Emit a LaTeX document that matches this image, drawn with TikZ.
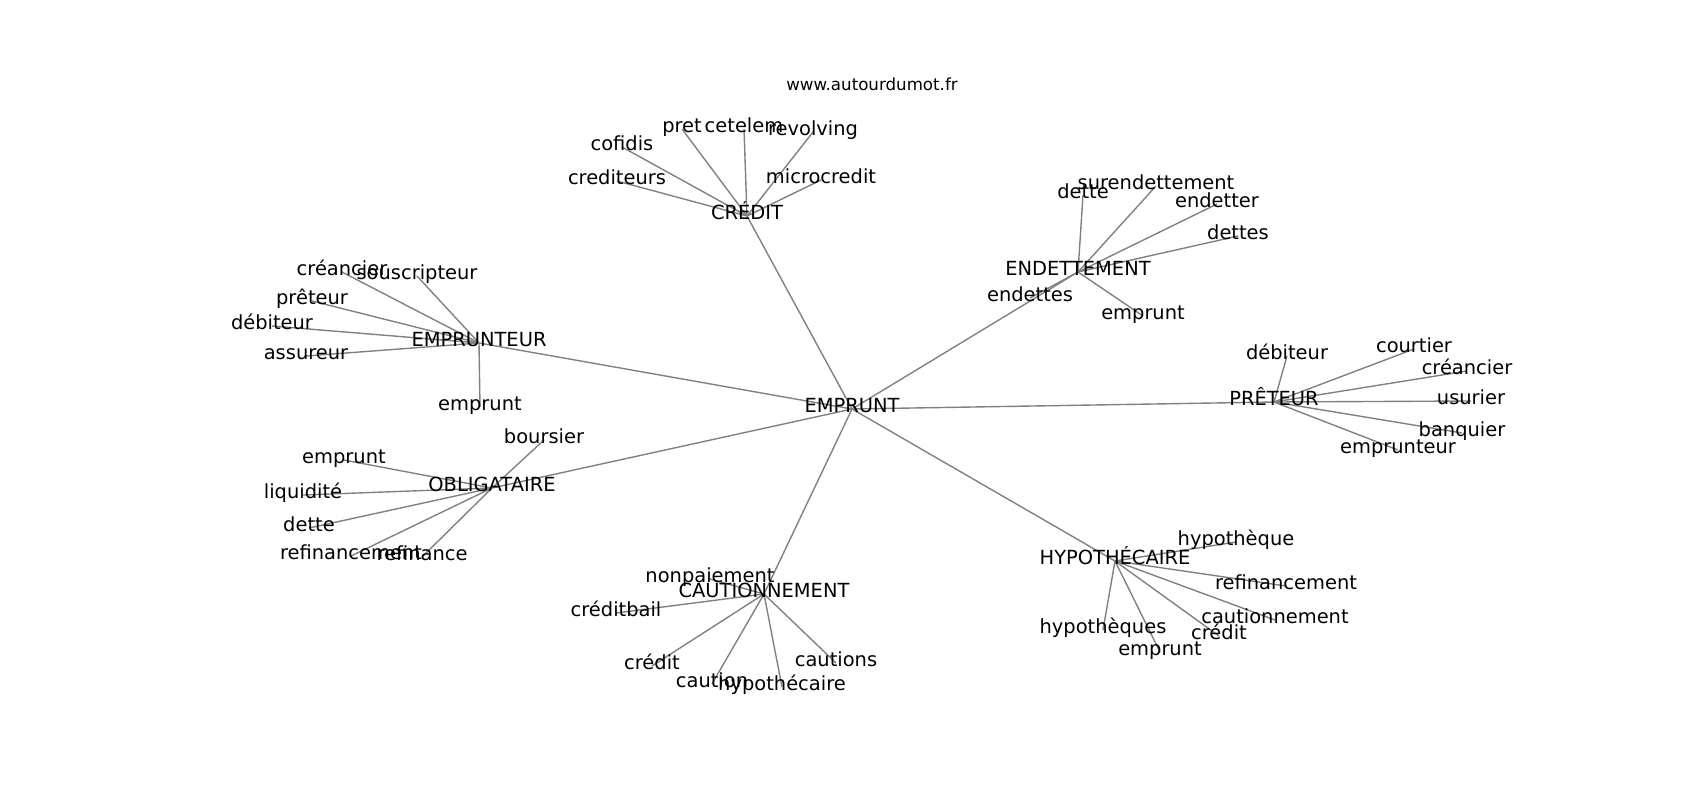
\documentclass[tikz,border=0pt]{standalone}
\usepackage{fontspec}
\setmainfont{DejaVu Sans}
\usetikzlibrary{backgrounds}

\begin{document}
\begin{tikzpicture}[x=0.72bp, y=-0.72bp,
    word/.style={inner sep=0pt, text height=0.76em, text depth=0.24em, font=\fontsize{14bp}{16bp}\selectfont},
    link/.style={line width=1bp, color=black!50}]
			%%%%% START %%%%%
			
			\useasboundingbox (0, -4) rectangle (1700, 796);
			
			\node[word, font=\fontsize{12bp}{14bp}\selectfont] (site) at (872, 83) {www.autourdumot.fr};
			
			\node[word] (emprunt) at (852, 405) {EMPRUNT};
			
			\node[word] (credit) at (747, 212) {CRÉDIT};
			\node[word] (endettement) at (1078, 268) {ENDETTEMENT};
			\node[word] (emprunteur) at (479, 339) {EMPRUNTEUR};
			\node[word] (preteur) at (1274, 398) {PRÊTEUR};
			\node[word] (obligataire) at (492, 484) {OBLIGATAIRE};
			\node[word] (cautionnement) at (764, 590) {CAUTIONNEMENT};
			\node[word] (hypothecaire) at (1115, 557) {HYPOTHÉCAIRE};
			
			\node[word] (cr-crediteurs) at (617, 177) {crediteurs};
			\node[word] (cr-cofidis) at (622, 143) {cofidis};
			\node[word] (cr-pret) at (682, 125) {pret};
			\node[word] (cr-cetelem) at (744, 125) {cetelem};
			\node[word] (cr-revolving) at (813, 128) {revolving};
			\node[word] (cr-microcredit) at (821, 176) {microcredit};
			
			\node[word] (en-dette) at (1083, 191) {dette};
			\node[word] (en-surendettement) at (1156, 182) {surendettement};
			\node[word] (en-endetter) at (1217, 200) {endetter};
			\node[word] (en-dettes) at (1238, 232) {dettes};
			\node[word] (en-endettes) at (1030, 294) {endettes};
			\node[word] (en-emprunt) at (1143, 312) {emprunt};
			
			\node[word] (et-creancier) at (342, 268) {créancier};
			\node[word] (et-souscripteur) at (417, 272) {souscripteur};
			\node[word] (et-preteur) at (312, 297) {prêteur};
			\node[word] (et-debiteur) at (272, 322) {débiteur};
			\node[word] (et-assureur) at (306, 352) {assureur};
			\node[word] (et-emprunt) at (480, 403) {emprunt};
			
			\node[word] (pr-debiteur) at (1287, 352) {débiteur};
			\node[word] (pr-courtier) at (1414, 345) {courtier};
			\node[word] (pr-creancier) at (1467, 367) {créancier};
			\node[word] (pr-usurier) at (1471, 397) {usurier};
			\node[word] (pr-banquier) at (1462, 429) {banquier};
			\node[word] (pr-emprunteur) at (1398, 446) {emprunteur};
			
			\node[word] (ob-boursier) at (544, 436) {boursier};
			\node[word] (ob-emprunt) at (344, 456) {emprunt};
			\node[word] (ob-liquidite) at (303, 491) {liquidité};
			\node[word] (ob-dette) at (309, 524) {dette};
			\node[word] (ob-refinancement) at (351, 552) {refinancement};
			\node[word] (ob-refinance) at (422, 553) {refinance};
			
			\node[word] (ca-nonpaiement) at (710, 575) {nonpaiement};
			\node[word] (ca-creditbail) at (616, 609) {créditbail};
			\node[word] (ca-credit) at (652, 662) {crédit};
			\node[word] (ca-caution) at (712, 680) {caution};
			\node[word] (ca-hypothecaire) at (782, 683) {hypothécaire};
			\node[word] (ca-cautions) at (836, 659) {cautions};
			
			\node[word] (hy-hypotheque) at (1236, 538) {hypothèque};
			\node[word] (hy-refinancement) at (1286, 582) {refinancement};
			\node[word] (hy-cautionnement) at (1275, 616) {cautionnement};
			\node[word] (hy-credit) at (1219, 632) {crédit};
			\node[word] (hy-hypotheques) at (1103, 626) {hypothèques};
			\node[word] (hy-emprunt) at (1160, 648) {emprunt};
			
			\begin{scope}[on background layer]
				\foreach \hub in {credit, endettement, emprunteur, preteur, obligataire, cautionnement, hypothecaire}
					\draw[link] (emprunt.center) -- (\hub.center);
				
				\foreach \leaf in {crediteurs, cofidis, pret, cetelem, revolving, microcredit}
					\draw[link] (credit.center) -- (cr-\leaf.center);
				\foreach \leaf in {dette, surendettement, endetter, dettes, endettes, emprunt}
					\draw[link] (endettement.center) -- (en-\leaf.center);
				\foreach \leaf in {creancier, souscripteur, preteur, debiteur, assureur, emprunt}
					\draw[link] (emprunteur.center) -- (et-\leaf.center);
				\foreach \leaf in {debiteur, courtier, creancier, usurier, banquier, emprunteur}
					\draw[link] (preteur.center) -- (pr-\leaf.center);
				\foreach \leaf in {boursier, emprunt, liquidite, dette, refinancement, refinance}
					\draw[link] (obligataire.center) -- (ob-\leaf.center);
				\foreach \leaf in {nonpaiement, creditbail, credit, caution, hypothecaire, cautions}
					\draw[link] (cautionnement.center) -- (ca-\leaf.center);
				\foreach \leaf in {hypotheque, refinancement, cautionnement, credit, hypotheques, emprunt}
					\draw[link] (hypothecaire.center) -- (hy-\leaf.center);
			\end{scope}
			
			%%%%% END %%%%%
\end{tikzpicture}
\end{document}
